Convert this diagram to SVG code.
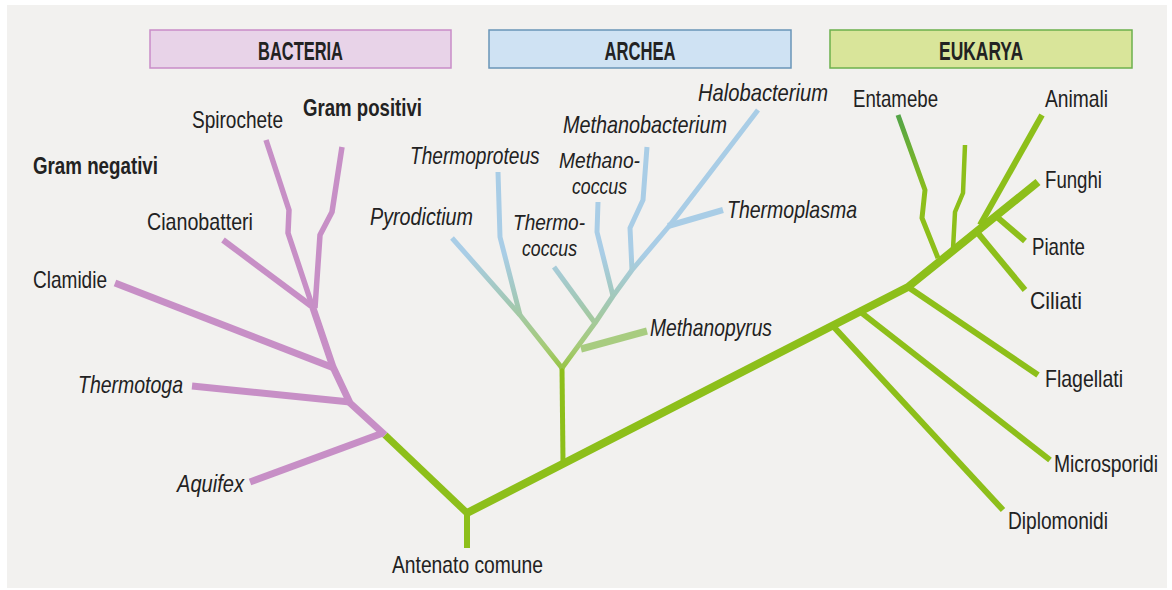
<svg xmlns="http://www.w3.org/2000/svg" width="1172" height="590" viewBox="0 0 1172 590">
  <defs>
    <linearGradient id="archGrad" gradientUnits="userSpaceOnUse" x1="0" y1="380" x2="0" y2="100">
      <stop offset="0" stop-color="#8fc12a"/>
      <stop offset="0.12" stop-color="#a6cb78"/>
      <stop offset="0.28" stop-color="#a2c8b6"/>
      <stop offset="0.45" stop-color="#a9cde6"/>
      <stop offset="1" stop-color="#a9cde6"/>
    </linearGradient>
    <linearGradient id="entGrad" gradientUnits="userSpaceOnUse" x1="0" y1="115" x2="0" y2="230">
      <stop offset="0" stop-color="#54a447"/>
      <stop offset="0.7" stop-color="#8dbf1a"/>
      <stop offset="1" stop-color="#8dbf1a"/>
    </linearGradient>
    <style>
      .lbl { font-family: "Liberation Sans", Arial, sans-serif; font-size: 24px; fill: #222; }
      .sm { font-size: 22px; }
      .it { font-style: italic; }
      .bd { font-weight: bold; }
      .hdr { font-family: "Liberation Sans", Arial, sans-serif; font-size: 26px; font-weight: bold; fill: #222; text-anchor: middle; }
      .br { fill: none; stroke-linecap: butt; stroke-linejoin: round; }
      .pink { stroke: #c78fc6; }
      .green { stroke: #8dbf1a; }
      .arch { stroke: url(#archGrad); }
    </style>
  </defs>

  <rect x="0" y="0" width="1172" height="590" fill="#ffffff"/>
  <rect x="7" y="5" width="1160" height="583" fill="#f2f1ef"/>

  <!-- Header boxes -->
  <g id="hdr-bacteria">
    <rect x="150" y="30" width="301" height="38" fill="#e8d3e8" stroke="#c98cc8" stroke-width="1.5"/>
    <text class="hdr" x="300.5" y="60" textLength="85" lengthAdjust="spacingAndGlyphs">BACTERIA</text>
  </g>
  <g id="hdr-archea">
    <rect x="489" y="30" width="302" height="38" fill="#cfe2f3" stroke="#6a95b8" stroke-width="1.5"/>
    <text class="hdr" x="640" y="60" textLength="71" lengthAdjust="spacingAndGlyphs">ARCHEA</text>
  </g>
  <g id="hdr-eukarya">
    <rect x="830" y="30" width="302" height="38" fill="#d9e59a" stroke="#6cb04c" stroke-width="1.5"/>
    <text class="hdr" x="981" y="60" textLength="84" lengthAdjust="spacingAndGlyphs">EUKARYA</text>
  </g>

  <!-- Connectors -->
  <g id="connectors">
    <!-- trunk -->
    <path class="br green" stroke-width="6" d="M467,548 L467,513"/>
    <path class="br green" stroke-width="7" d="M467,513 L385,435"/>
    <path class="br green" stroke-width="8" d="M467,513 L908,287 L1038,182"/>
    <!-- archaea stem -->
    <path class="br green" stroke-width="5" d="M563,462 L562,368"/>
    <!-- archaea -->
    <path class="br arch" stroke-width="5" d="M562,368 L520,315 L452,238"/>
    <path class="br arch" stroke-width="5" d="M520,315 L500,237 L498,172"/>
    <path class="br arch" stroke-width="5" d="M562,368 L595,323 L613,296 L632,270 L670,225 L758,110"/>
    <path class="br arch" stroke-width="5" d="M595,323 L554,267"/>
    <path class="br arch" stroke-width="5" d="M613,296 L597,232 L598,202"/>
    <path class="br arch" stroke-width="5" d="M632,270 L630,228 L643,200 L647,147"/>
    <path class="br" stroke="#a9cde6" stroke-width="6" d="M668,226 L723,210"/>
    <path class="br" stroke="#a8cc80" stroke-width="7" d="M581,349 L647,331"/>
    <!-- bacteria -->
    <path class="br pink" stroke-width="7" d="M385,435 L350,403 L333,367 L313,308"/>
    <path class="br pink" stroke-width="7" d="M383,433 L250,482"/>
    <path class="br pink" stroke-width="7" d="M350,402 L192,386"/>
    <path class="br pink" stroke-width="7" d="M334,368 L115,283"/>
    <path class="br pink" stroke-width="6" d="M314,308 L223,240"/>
    <path class="br pink" stroke-width="5.5" d="M313,308 L288,233 L289,210 L266,140"/>
    <path class="br pink" stroke-width="5.5" d="M315,308 L320,235 L332,212 L342,147"/>
    <!-- eukarya -->
    <path class="br green" stroke-width="6" d="M908,287 L1038,375"/>
    <path class="br green" stroke-width="6" d="M858,310 L1050,460"/>
    <path class="br green" stroke-width="6" d="M832,325 L1003,510"/>
    <path class="br green" stroke-width="6" d="M977,232 L1025,290"/>
    <path class="br green" stroke-width="6" d="M997,217 L1025,241"/>
    <path class="br green" stroke-width="6" d="M980,225 L1042,115"/>
    <path class="br" stroke="url(#entGrad)" stroke-width="5" d="M938,258 L922,218 L925,190 L898,115"/>
    <path class="br green" stroke-width="4.5" d="M953,249 L955,212 L963,193 L965,145"/>
  </g>

  <!-- Bacteria labels -->
  <g id="spirochete"><text class="lbl" x="192" y="128" textLength="91" lengthAdjust="spacingAndGlyphs">Spirochete</text></g>
  <g id="gram-positivi"><text class="lbl bd" x="303" y="116" textLength="119" lengthAdjust="spacingAndGlyphs">Gram positivi</text></g>
  <g id="gram-negativi"><text class="lbl bd" x="33" y="174" textLength="125" lengthAdjust="spacingAndGlyphs">Gram negativi</text></g>
  <g id="cianobatteri"><text class="lbl" x="147" y="230" textLength="106" lengthAdjust="spacingAndGlyphs">Cianobatteri</text></g>
  <g id="clamidie"><text class="lbl" x="33" y="288" textLength="74" lengthAdjust="spacingAndGlyphs">Clamidie</text></g>
  <g id="thermotoga"><text class="lbl it" x="78" y="393" textLength="105" lengthAdjust="spacingAndGlyphs">Thermotoga</text></g>
  <g id="aquifex"><text class="lbl it" x="177" y="492" textLength="67" lengthAdjust="spacingAndGlyphs">Aquifex</text></g>
  <g id="antenato"><text class="lbl" x="392" y="573" textLength="151" lengthAdjust="spacingAndGlyphs">Antenato comune</text></g>

  <!-- Archaea labels -->
  <g id="pyrodictium"><text class="lbl it" x="370" y="225" textLength="103" lengthAdjust="spacingAndGlyphs">Pyrodictium</text></g>
  <g id="thermoproteus"><text class="lbl it" transform="translate(410,164) scale(0.8,1)" x="0" y="0" textLength="162" lengthAdjust="spacingAndGlyphs">Thermoproteus</text></g>
  <g id="methanobacterium"><text class="lbl it" x="563" y="133" textLength="164" lengthAdjust="spacingAndGlyphs">Methanobacterium</text></g>
  <g id="methanococcus">
    <text class="lbl it sm" x="559" y="168" textLength="81" lengthAdjust="spacingAndGlyphs">Methano-</text>
    <text class="lbl it sm" x="572" y="194" textLength="55" lengthAdjust="spacingAndGlyphs">coccus</text>
  </g>
  <g id="thermococcus">
    <text class="lbl it sm" x="513" y="230" textLength="72" lengthAdjust="spacingAndGlyphs">Thermo-</text>
    <text class="lbl it sm" x="522" y="256" textLength="55" lengthAdjust="spacingAndGlyphs">coccus</text>
  </g>
  <g id="halobacterium"><text class="lbl it" x="698" y="101" textLength="130" lengthAdjust="spacingAndGlyphs">Halobacterium</text></g>
  <g id="thermoplasma"><text class="lbl it" x="727" y="218" textLength="130" lengthAdjust="spacingAndGlyphs">Thermoplasma</text></g>
  <g id="methanopyrus"><text class="lbl it" x="650" y="336" textLength="122" lengthAdjust="spacingAndGlyphs">Methanopyrus</text></g>

  <!-- Eukarya labels -->
  <g id="entamebe"><text class="lbl" x="853" y="107" textLength="85" lengthAdjust="spacingAndGlyphs">Entamebe</text></g>
  <g id="animali"><text class="lbl" x="1045" y="107" textLength="63" lengthAdjust="spacingAndGlyphs">Animali</text></g>
  <g id="funghi"><text class="lbl" x="1045" y="188" textLength="57" lengthAdjust="spacingAndGlyphs">Funghi</text></g>
  <g id="piante"><text class="lbl" x="1032" y="255" textLength="53" lengthAdjust="spacingAndGlyphs">Piante</text></g>
  <g id="ciliati"><text class="lbl" x="1030" y="309" textLength="52" lengthAdjust="spacingAndGlyphs">Ciliati</text></g>
  <g id="flagellati"><text class="lbl" x="1045" y="387" textLength="78" lengthAdjust="spacingAndGlyphs">Flagellati</text></g>
  <g id="microsporidi"><text class="lbl" transform="translate(1054,472) scale(0.8,1)" x="0" y="0" textLength="130" lengthAdjust="spacingAndGlyphs">Microsporidi</text></g>
  <g id="diplomonidi"><text class="lbl" x="1008" y="529" textLength="100" lengthAdjust="spacingAndGlyphs">Diplomonidi</text></g>
</svg>
